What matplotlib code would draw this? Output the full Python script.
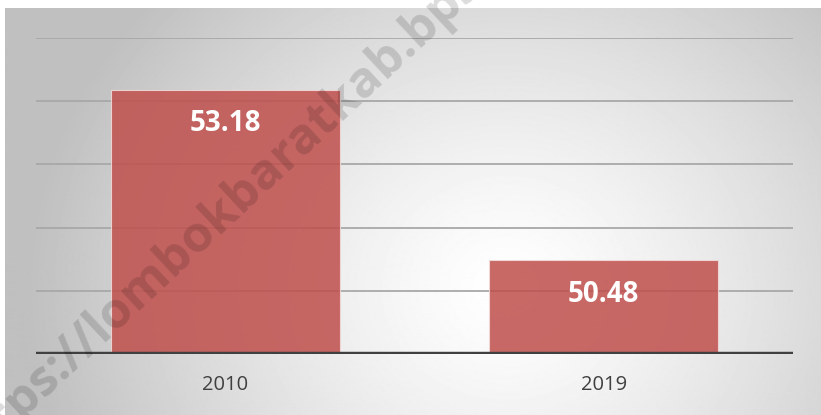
import matplotlib.pyplot as plt
import numpy as np

# data
years = ['2010', '2019']
values = [53.18, 50.48]
y_ticks = [49, 50, 51, 52, 53, 54]

W, H = 821, 415
fig = plt.figure(figsize=(W / 100, H / 100), dpi=100)

# radial gray gradient background (excel-ish chart area)
bg = fig.add_axes([5 / W, 0, (W - 5) / W, (H - 8) / H], zorder=-2)
gx, gy = np.meshgrid(np.arange(W - 5), np.arange(H - 8))
cx, cy = 500, 280
r = np.sqrt(((gx - cx) / 1.0) ** 2 + ((gy - cy) / 0.9) ** 2)
t = np.clip(r / 480, 0, 1)
shade = 1.0 - 0.25 * t ** 1.3
bg.imshow(shade, cmap='gray', vmin=0, vmax=1, aspect='auto', origin='upper',
          extent=[0, W - 5, H - 8, 0])
bg.axis('off')

ax = fig.add_axes([36 / W, (H - 354) / H, (793 - 36) / W, (354 - 38) / H])
ax.set_facecolor('none')
x = np.arange(len(years))
ax.set_xlim(-0.5, len(years) - 0.5)
ax.set_ylim(y_ticks[0], y_ticks[-1])

for yv in y_ticks[1:]:
    ax.axhline(yv, color='#A8A8A8', lw=1.3, zorder=1)
ax.axhline(y_ticks[0], color='#404040', lw=3.2, zorder=4)

bars = ax.bar(x, [v - y_ticks[0] for v in values], bottom=y_ticks[0], width=0.605,
              color='#C0504D', alpha=0.86, edgecolor='#F2DCDB', linewidth=0.8, zorder=2)

for xi, v in zip(x, values):
    ax.annotate(f'{v:.2f}', (xi, v), xytext=(0, -34), textcoords='offset pixels',
                ha='center', va='center', color='white', fontsize=20,
                fontweight='bold', family='Open Sans', zorder=5)

ax.set_xticks(x)
ax.set_xticklabels(years, fontsize=14.5, color='#404040', family='Open Sans')
ax.tick_params(axis='x', length=0, pad=15)
ax.set_yticks([])
for s in ax.spines.values():
    s.set_visible(False)

# watermark
fig.text(264 / W, 1 - 173 / H, 'https://lombokbaratkab.bps.go.id', rotation=43,
         ha='center', va='center', fontsize=36, fontweight='bold',
         family='Open Sans', color='black', alpha=0.14, zorder=10)

fig.savefig('out.png', dpi=100)
